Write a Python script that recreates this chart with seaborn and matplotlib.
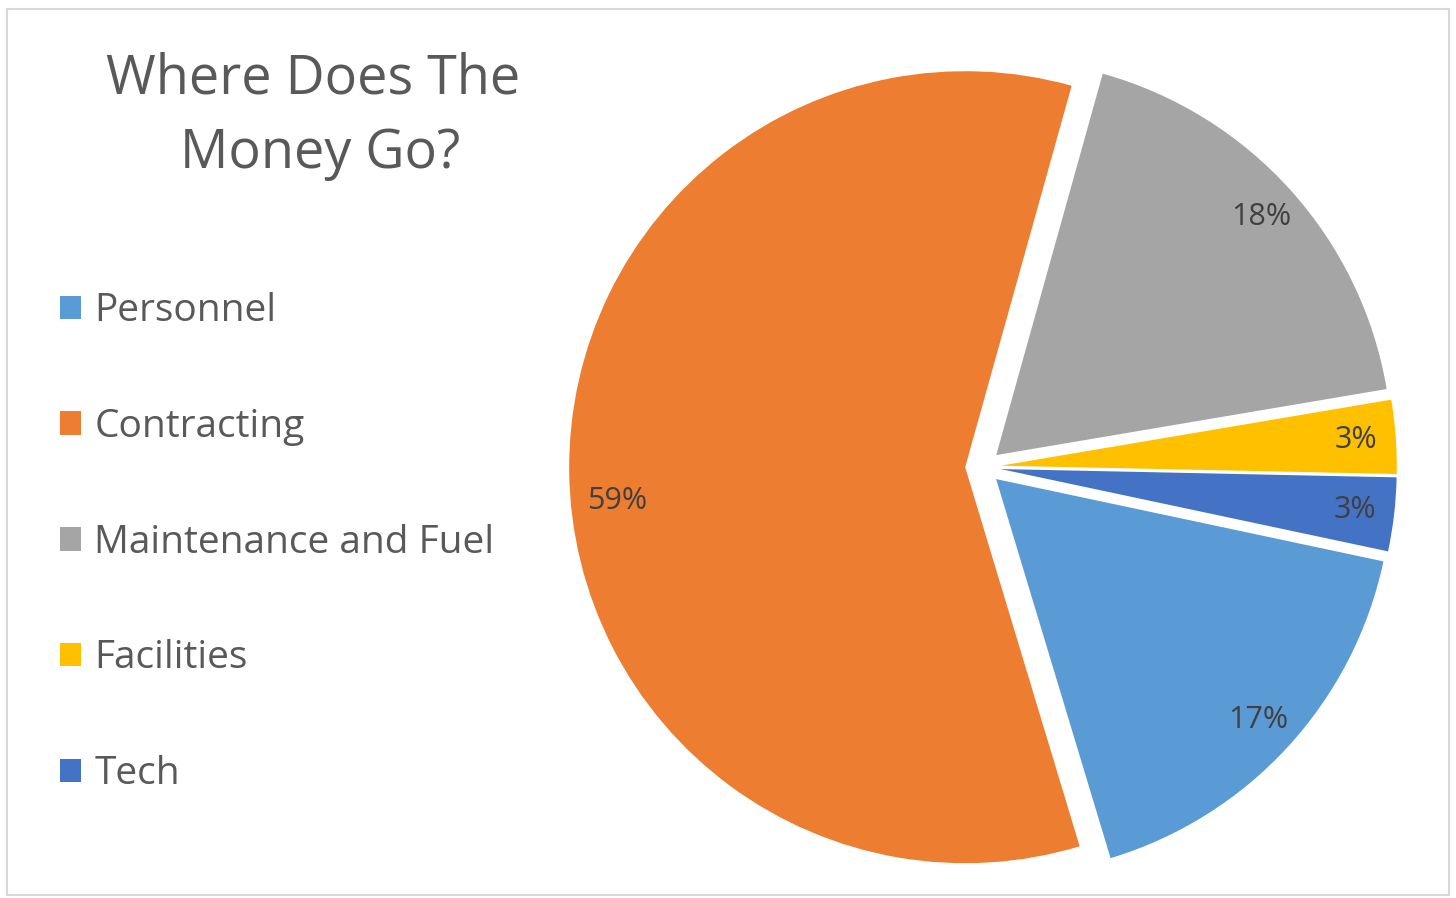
import matplotlib
matplotlib.use("Agg")
import matplotlib.pyplot as plt
import seaborn as sns
from matplotlib.patches import Rectangle

categories = ["Personnel", "Contracting", "Maintenance and Fuel", "Facilities", "Tech"]
values = [17, 59, 18, 3, 3]
colors_hex = ["#5B9BD5", "#ED7D31", "#A5A5A5", "#FFC000", "#4472C4"]
title_lines = ["Where Does The", "Money Go?"]

sns.set_theme(style="white")
plt.rcParams['font.family'] = ['Open Sans', 'DejaVu Sans']
palette = sns.color_palette(colors_hex)

W, H = 1456, 898
fig = plt.figure(figsize=(W / 100, H / 100), dpi=100)
fig.patch.set_facecolor("white")

# chart border
fig.add_artist(Rectangle((7 / W, 1 - 895 / H), (1449 - 7) / W, (895 - 9) / H,
                         transform=fig.transFigure, fill=False,
                         edgecolor="#D9D9D9", linewidth=1.5))

# pie axes: center (983, 467) px, radius 396 px
cx, cy, R = 983, 467, 396
L = 1.12
half = L * R
ax = fig.add_axes([(cx - half) / W, 1 - (cy + half) / H, 2 * half / W, 2 * half / H])
wedges, texts, autotexts = ax.pie(
    values, colors=palette, startangle=-12, counterclock=False,
    explode=[0.045] * len(values), radius=1.0,
    autopct=lambda p: f"{p:.0f}%", pctdistance=0.9,
    wedgeprops=dict(linewidth=0),
    textprops=dict(color="#404040", fontsize=22))
# Excel's best-fit placement puts the big slice's label a little lower / inward
x59, y59 = autotexts[1].get_position()
autotexts[1].set_position((x59 + 0.02, y59 - 0.075))
ax.set_xlim(-L, L)
ax.set_ylim(-L, L)
ax.set_aspect("equal")
ax.axis("off")

# title
fig.text(313 / W, 1 - 94 / H, title_lines[0], ha="center", va="baseline",
         fontsize=38.8, color="#595959")
fig.text(320 / W, 1 - 168 / H, title_lines[1], ha="center", va="baseline",
         fontsize=38.8, color="#595959")

# legend
leg = fig.legend(wedges, categories, loc="upper left",
                 bbox_to_anchor=(60 / W, 1 - 292 / H), frameon=False,
                 fontsize=28, labelcolor="#595959",
                 handlelength=0.55, handleheight=0.55, handletextpad=0.33,
                 labelspacing=2.0, borderaxespad=0, borderpad=0)

fig.savefig("out.png", dpi=100, facecolor="white")
